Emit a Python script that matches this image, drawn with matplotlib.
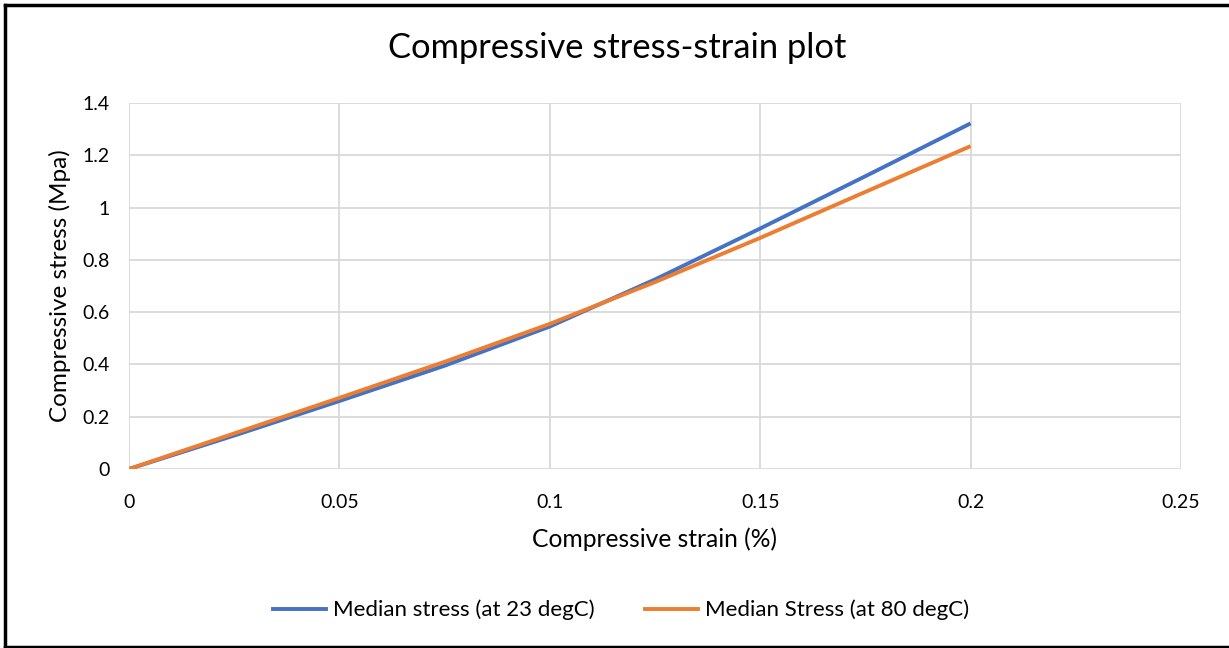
import matplotlib.pyplot as plt
from matplotlib.lines import Line2D
from matplotlib.ticker import FuncFormatter

plt.rcParams["font.family"] = ["Lato", "DejaVu Sans"]

# strain (%) and median stress (MPa)
strain = [0.0, 0.025, 0.05, 0.075, 0.1, 0.125, 0.15, 0.175, 0.2]
stress_23 = [0.0, 0.128, 0.260, 0.395, 0.545, 0.725, 0.920, 1.120, 1.322]
stress_80 = [0.0, 0.136, 0.272, 0.410, 0.555, 0.715, 0.884, 1.060, 1.235]

x_ticks = [0, 0.05, 0.1, 0.15, 0.2, 0.25]
y_ticks = [0, 0.2, 0.4, 0.6, 0.8, 1.0, 1.2, 1.4]

BLUE = "#4472C4"
ORANGE = "#ED7D31"
GRID = "#D9D9D9"
TEXT = "#000000"
LW = 2.8

fig = plt.figure(figsize=(12.29, 6.48), dpi=100)
ax = fig.add_axes([129 / 1229, (648 - 469) / 648, (1181 - 129) / 1229, (469 - 103) / 648])

ax.plot(strain, stress_23, color=BLUE, lw=LW, solid_capstyle="butt",
        solid_joinstyle="round", zorder=3)
ax.plot(strain, stress_80, color=ORANGE, lw=LW, solid_capstyle="butt",
        solid_joinstyle="round", zorder=4)

ax.set_xlim(0, 0.25)
ax.set_ylim(0, 1.4)
ax.set_xticks(x_ticks)
ax.set_yticks(y_ticks)
fmt = FuncFormatter(lambda v, _: f"{v:g}")
ax.xaxis.set_major_formatter(fmt)
ax.yaxis.set_major_formatter(fmt)
ax.tick_params(length=0, labelsize=14, colors=TEXT)
ax.tick_params(axis="x", pad=18)
ax.tick_params(axis="y", pad=14)

ax.grid(True, color=GRID, lw=1.3)
ax.set_axisbelow(True)
for s in ax.spines.values():
    s.set_visible(False)

ax.set_xlabel("Compressive strain (%)", fontsize=17.7, labelpad=12)
ax.set_ylabel("Compressive stress (Mpa)", fontsize=17.5, labelpad=8)
fig.text(617 / 1229, 1 - 48 / 648, "Compressive stress-strain plot",
         fontsize=24.8, ha="center", va="center")

handles = [Line2D([], [], color=BLUE, lw=LW), Line2D([], [], color=ORANGE, lw=LW)]
fig.legend(handles, ["Median stress (at 23 degC)", "Median Stress (at 80 degC)"],
           loc="center", bbox_to_anchor=(621 / 1229, 1 - 610 / 648), ncol=2,
           frameon=False, fontsize=16, handlelength=2.4, handletextpad=0.3,
           columnspacing=2.25, borderpad=0, borderaxespad=0)

# outer frame of the chart area
for xs, ys in [((0.004, 1.0), (0.993, 0.993)), ((0.004, 0.004), (0.0, 0.993)),
               ((0.004, 1.0), (0.002, 0.002))]:
    fig.add_artist(Line2D(xs, ys, color="black", lw=2.5, transform=fig.transFigure))

fig.savefig("out.png", dpi=100)
